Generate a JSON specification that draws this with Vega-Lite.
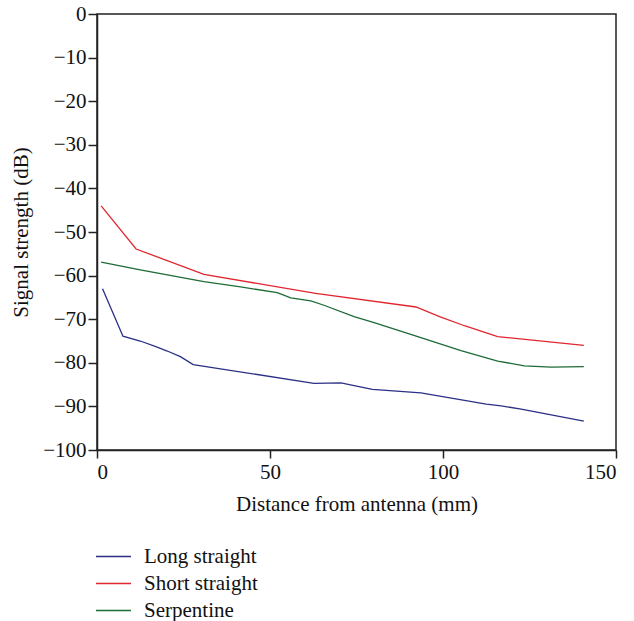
{
  "$schema": "https://vega.github.io/schema/vega-lite/v6.json",
  "width": 519,
  "height": 436,
  "autosize": "none",
  "padding": {"left": 97, "top": 14, "right": 18, "bottom": 171},
  "background": "white",
  "config": {
    "font": "Liberation Serif",
    "view": {"stroke": "#222", "strokeWidth": 1.5},
    "axis": {"grid": false, "domainColor": "#222", "domainWidth": 1.5, "tickColor": "#222", "tickWidth": 1.5, "labelFont": "Liberation Serif", "titleFont": "Liberation Serif", "labelFontSize": 21, "titleFontSize": 21, "titleFontWeight": "normal", "labelColor": "#111", "titleColor": "#111"}
  },
  "data": {"values": [
    {"series": "Long straight", "x": 1.6, "y": -63.0},
    {"series": "Long straight", "x": 7.5, "y": -73.9},
    {"series": "Long straight", "x": 12.5, "y": -75.0},
    {"series": "Long straight", "x": 17.0, "y": -76.3},
    {"series": "Long straight", "x": 20.3, "y": -77.3},
    {"series": "Long straight", "x": 24.1, "y": -78.6},
    {"series": "Long straight", "x": 27.8, "y": -80.4},
    {"series": "Long straight", "x": 62.7, "y": -84.7},
    {"series": "Long straight", "x": 70.5, "y": -84.6},
    {"series": "Long straight", "x": 79.6, "y": -86.1},
    {"series": "Long straight", "x": 93.6, "y": -86.9},
    {"series": "Long straight", "x": 112.5, "y": -89.5},
    {"series": "Long straight", "x": 116.8, "y": -89.9},
    {"series": "Long straight", "x": 122.6, "y": -90.6},
    {"series": "Long straight", "x": 140.7, "y": -93.4},
    {"series": "Short straight", "x": 1.2, "y": -44.0},
    {"series": "Short straight", "x": 11.3, "y": -53.9},
    {"series": "Short straight", "x": 30.9, "y": -59.7},
    {"series": "Short straight", "x": 63.2, "y": -64.1},
    {"series": "Short straight", "x": 92.2, "y": -67.2},
    {"series": "Short straight", "x": 99.0, "y": -69.4},
    {"series": "Short straight", "x": 106.2, "y": -71.5},
    {"series": "Short straight", "x": 115.8, "y": -74.0},
    {"series": "Short straight", "x": 140.7, "y": -76.0},
    {"series": "Serpentine", "x": 1.2, "y": -56.9},
    {"series": "Serpentine", "x": 12.5, "y": -58.7},
    {"series": "Serpentine", "x": 30.9, "y": -61.4},
    {"series": "Serpentine", "x": 41.5, "y": -62.6},
    {"series": "Serpentine", "x": 52.1, "y": -63.9},
    {"series": "Serpentine", "x": 56.0, "y": -65.1},
    {"series": "Serpentine", "x": 61.8, "y": -65.8},
    {"series": "Serpentine", "x": 65.6, "y": -66.8},
    {"series": "Serpentine", "x": 74.3, "y": -69.4},
    {"series": "Serpentine", "x": 80.1, "y": -70.8},
    {"series": "Serpentine", "x": 92.7, "y": -74.0},
    {"series": "Serpentine", "x": 105.2, "y": -77.2},
    {"series": "Serpentine", "x": 115.8, "y": -79.6},
    {"series": "Serpentine", "x": 123.5, "y": -80.7},
    {"series": "Serpentine", "x": 131.3, "y": -81.0},
    {"series": "Serpentine", "x": 140.7, "y": -80.9}
  ]},
  "mark": {"type": "line", "strokeWidth": 1.3},
  "encoding": {
    "x": {"field": "x", "type": "quantitative", "scale": {"domain": [0, 150], "nice": false}, "axis": {"values": [0, 50, 100, 150], "tickSize": 8, "labelPadding": 3, "title": "Distance from antenna (mm)", "titlePadding": 11}},
    "y": {"field": "y", "type": "quantitative", "scale": {"domain": [-100, 0], "nice": false}, "axis": {"values": [0, -10, -20, -30, -40, -50, -60, -70, -80, -90, -100], "tickSize": 9, "labelPadding": 2, "title": "Signal strength (dB)", "titlePadding": 11}},
    "color": {"field": "series", "type": "nominal", "sort": ["Long straight", "Short straight", "Serpentine"], "scale": {"domain": ["Long straight", "Short straight", "Serpentine"], "range": ["#2b2f85", "#e0262e", "#1d6b35"]},
      "legend": {"title": null, "orient": "none", "legendX": -2, "legendY": 529, "symbolType": "stroke", "symbolSize": 1225, "symbolStrokeWidth": 1.5, "labelFontSize": 21, "labelFont": "Liberation Serif", "labelColor": "#111", "labelOffset": 12, "rowPadding": 0, "clipHeight": 27}}
  }
}
